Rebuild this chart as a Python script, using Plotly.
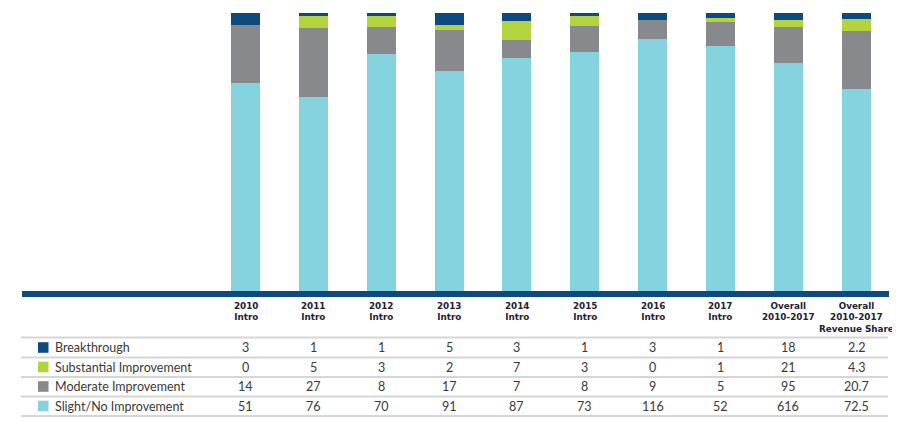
import plotly.graph_objects as go

# ---- data ----
categories = ["2010<br>Intro", "2011<br>Intro", "2012<br>Intro", "2013<br>Intro", "2014<br>Intro",
              "2015<br>Intro", "2016<br>Intro", "2017<br>Intro", "Overall<br>2010-2017",
              "Overall<br>2010-2017<br>Revenue Share"]
series_names = ["Slight/No Improvement", "Moderate Improvement", "Substantial Improvement", "Breakthrough"]
slight = [51, 76, 70, 91, 87, 73, 116, 52, 616, 72.5]
moderate = [14, 27, 8, 17, 7, 8, 9, 5, 95, 20.7]
substantial = [0, 5, 3, 2, 7, 3, 0, 1, 21, 4.3]
breakthrough = [3, 1, 1, 5, 3, 1, 3, 1, 18, 2.2]

colors = {"Breakthrough": "#0c4a7f", "Substantial Improvement": "#b3d33f",
          "Moderate Improvement": "#87898c", "Slight/No Improvement": "#86d3e0"}
values = {"Slight/No Improvement": slight, "Moderate Improvement": moderate,
          "Substantial Improvement": substantial, "Breakthrough": breakthrough}

OFF = 8  # default body margin of the page
W, H = 900 - OFF, 421 - OFF
xs = list(range(len(categories)))
c0 = 245.5 - OFF
px_per_unit = (856 - 245.5) / 9.0
x0 = -c0 / px_per_unit
x1 = (W - c0) / px_per_unit

def py(p):
    return 1 - (p - OFF) / H

def pxp(p):
    return (p - OFF) / W

fig = go.Figure()
for name in series_names:
    fig.add_trace(go.Bar(x=xs, y=values[name], name=name, marker_color=colors[name],
                         marker_line_width=0, width=29 / px_per_unit, showlegend=False))

fig.update_layout(
    barmode="stack", barnorm="percent",
    width=W, height=H, margin=dict(l=0, r=0, t=0, b=0),
    paper_bgcolor="white", plot_bgcolor="white",
    font=dict(family="Lato, Open Sans, sans-serif", color="#3a3a3a"),
    xaxis=dict(range=[x0, x1], domain=[0, 1], visible=False, fixedrange=True),
    yaxis=dict(range=[0, 100], domain=[py(291), py(13)], visible=False, fixedrange=True),
)

shapes = []
# baseline
shapes.append(dict(type="rect", xref="paper", yref="paper", x0=pxp(22), x1=pxp(889),
                   y0=py(297), y1=py(291), fillcolor="#0c4a7f", line_width=0))
# table row lines
for yl in [337.5, 357.5, 377, 396.5, 416]:
    shapes.append(dict(type="line", xref="paper", yref="paper", x0=pxp(21), x1=pxp(888),
                       y0=py(yl), y1=py(yl), line=dict(color="#d6d6d6", width=2)))

annotations = []
# headers
for i, c in enumerate(categories):
    n = len(c.split("<br>"))
    yc = 306.5 + (n - 1) * 10.5 / 2
    annotations.append(dict(x=xs[i], y=py(yc), xref="x", yref="paper",
                            text="<b>" + c + "</b>", showarrow=False,
                            yanchor="middle", xanchor="center", align="center",
                            font=dict(size=8.8, color="#1f2230", family="DejaVu Sans, sans-serif")))
row_order = ["Breakthrough", "Substantial Improvement", "Moderate Improvement", "Slight/No Improvement"]
row_y = [347.5, 367, 386.5, 406]
for r, name in enumerate(row_order):
    shapes.append(dict(type="rect", xref="paper", yref="paper", x0=pxp(38), x1=pxp(48.5),
                       y0=py(row_y[r] + 5.3), y1=py(row_y[r] - 5.3),
                       fillcolor=colors[name], line_width=0))
    annotations.append(dict(x=pxp(53), y=py(row_y[r]), xref="paper", yref="paper", text=name,
                            showarrow=False, xanchor="left", yanchor="middle",
                            font=dict(size=12.5, color="#3a3a3a")))
    for i, v in enumerate(values[name]):
        annotations.append(dict(x=xs[i], y=py(row_y[r]), xref="x", yref="paper", text=str(v),
                                showarrow=False, xanchor="center", yanchor="middle",
                                font=dict(size=12.5, color="#3a3a3a")))

fig.update_layout(shapes=shapes, annotations=annotations)
fig.write_html("out.html")
